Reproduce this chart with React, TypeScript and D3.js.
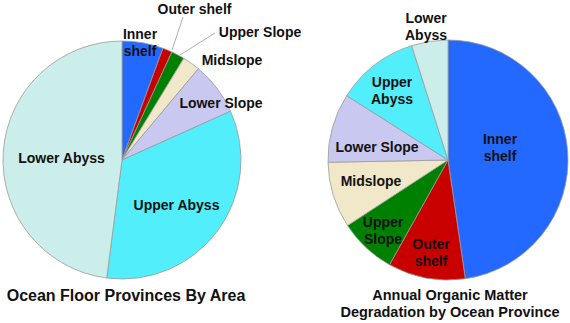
import React from "react";
import * as d3 from "d3";

const provinces = ["Inner shelf", "Outer shelf", "Upper Slope", "Midslope", "Lower Slope", "Upper Abyss", "Lower Abyss"];
const areaPct = [5.6, 1.3, 1.8, 2.4, 7.2, 33.8, 48.0];
const degradationPct = [47.7, 10.4, 7.7, 8.9, 9.3, 11.1, 4.9];
const colors = ["#2369FF", "#C80000", "#008000", "#F0E8C8", "#C8C8F0", "#52EEFC", "#CCEEEA"];

const leftTitle = "Ocean Floor Provinces By Area";
const rightTitle = ["Annual Organic Matter", "Degradation by Ocean Province"];

// label layout (positions relative to pie centre), lines per label
const leftLabels: { lines: string[]; dx: number; dy: number; leader?: [number, number, number, number] }[] = [
  { lines: ["Inner", "shelf"], dx: 18, dy: -121 },
  { lines: ["Outer shelf"], dx: 72.5, dy: -146, leader: [61, -143, 50, -110] },
  { lines: ["Upper Slope"], dx: 138, dy: -123, leader: [93, -127, 58, -105] },
  { lines: ["Midslope"], dx: 110, dy: -95 },
  { lines: ["Lower Slope"], dx: 99, dy: -52 },
  { lines: ["Upper Abyss"], dx: 54.5, dy: 49.5 },
  { lines: ["Lower Abyss"], dx: -60.5, dy: 3 },
];
const rightLabels: { lines: string[]; dx: number; dy: number }[] = [
  { lines: ["Inner", "shelf"], dx: 52, dy: -16 },
  { lines: ["Outer", "shelf"], dx: -17, dy: 89 },
  { lines: ["Upper", "Slope"], dx: -65, dy: 67 },
  { lines: ["Midslope"], dx: -77, dy: 26 },
  { lines: ["Lower Slope"], dx: -71, dy: -8 },
  { lines: ["Upper", "Abyss"], dx: -56, dy: -73 },
  { lines: ["Lower", "Abyss"], dx: -22, dy: -137 },
];

const FONT = "'Liberation Sans', Arial, sans-serif";

function Pie({ cx, cy, r, values, labels }: { cx: number; cy: number; r: number; values: number[]; labels: any[] }) {
  const pie = d3.pie<number>().sort(null).value((d) => d)(values);
  const arc = d3.arc<d3.PieArcDatum<number>>().innerRadius(0).outerRadius(r);
  return (
    <g transform={`translate(${cx},${cy})`}>
      {pie.map((p, i) => (
        <path key={i} d={arc(p) || ""} fill={colors[i]} stroke="#9a9a9a" strokeWidth={0.8} />
      ))}
      {labels.map((l, i) => (
        <g key={"l" + i}>
          {l.leader && (
            <line x1={l.leader[0]} y1={l.leader[1]} x2={l.leader[2]} y2={l.leader[3]} stroke="#b0b0b0" strokeWidth={1} />
          )}
          {l.lines.map((t: string, j: number) => (
            <text key={j} x={l.dx} y={l.dy + j * 17} textAnchor="middle" fontFamily={FONT} fontWeight="bold" fontSize={14} fill="#111">
              {t}
            </text>
          ))}
        </g>
      ))}
    </g>
  );
}

export default function App() {
  return (
    <svg width={570} height={323} style={{ position: "absolute", left: 0, top: 0, background: "#fff" }}>
      <rect width={570} height={323} fill="#fff" />
      <Pie cx={122} cy={160} r={119} values={areaPct} labels={leftLabels} />
      <Pie cx={448} cy={160} r={120} values={degradationPct} labels={rightLabels} />
      <text x={126} y={301} textAnchor="middle" fontFamily={FONT} fontWeight="bold" fontSize={16} fill="#111">
        {leftTitle}
      </text>
      {rightTitle.map((t, i) => (
        <text key={i} x={450} y={300 + i * 16.5} textAnchor="middle" fontFamily={FONT} fontWeight="bold" fontSize={14.5} fill="#111">
          {t}
        </text>
      ))}
    </svg>
  );
}
